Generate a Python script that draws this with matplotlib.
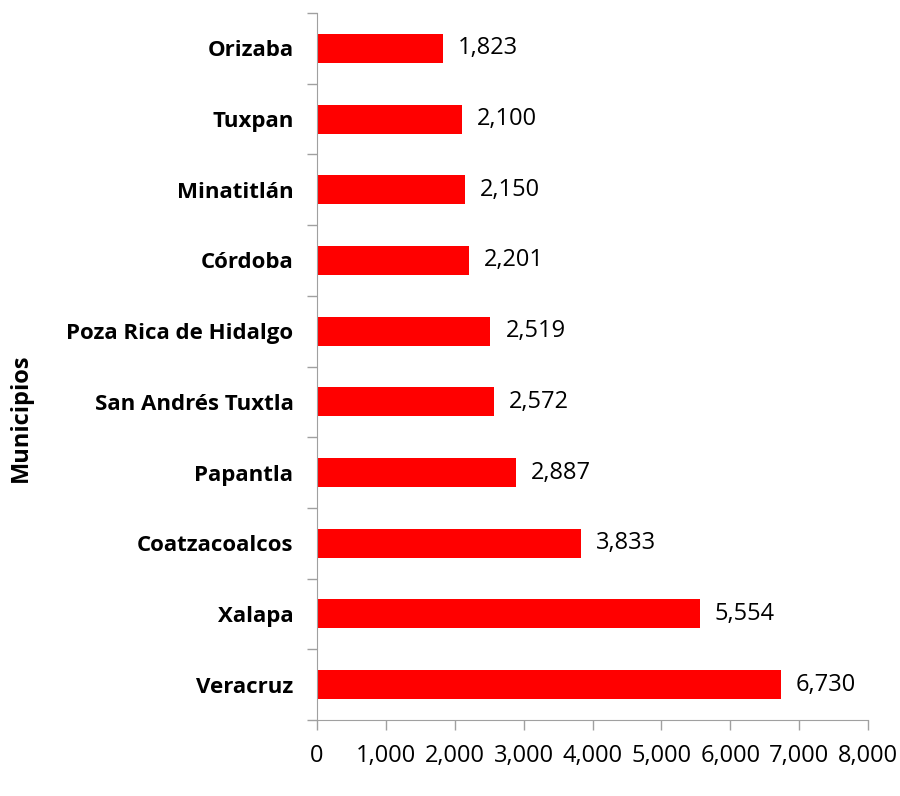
import matplotlib
matplotlib.use("Agg")
import matplotlib.pyplot as plt
from matplotlib.ticker import FuncFormatter, FixedLocator

municipios = ["Veracruz", "Xalapa", "Coatzacoalcos", "Papantla", "San Andrés Tuxtla",
              "Poza Rica de Hidalgo", "Córdoba", "Minatitlán", "Tuxpan", "Orizaba"]
valores = [6730, 5554, 3833, 2887, 2572, 2519, 2201, 2150, 2100, 1823]
xticks = [0, 1000, 2000, 3000, 4000, 5000, 6000, 7000, 8000]

plt.rcParams['font.family'] = ['Open Sans', 'DejaVu Sans']

fig = plt.figure(figsize=(9, 7.96), dpi=100)
ax = fig.add_axes([317/900, 1 - 720/796, (868-317)/900, (720-13)/796])

pos = list(range(len(municipios)))
ax.barh(pos, valores, height=0.41, color="#ff0000")
for p, v in zip(pos, valores):
    ax.text(v + 220, p, f"{v:,}", va="center", ha="left", fontsize=17)

ax.set_xlim(0, 8000)
ax.set_ylim(-0.5, len(municipios) - 0.5)
ax.set_xticks(xticks)
ax.xaxis.set_major_formatter(FuncFormatter(lambda x, _: f"{int(x):,}"))
ax.set_yticks(pos)
ax.set_yticklabels(municipios, fontsize=16, fontweight="bold")
ax.tick_params(axis="y", length=0, pad=17)
ax.yaxis.set_minor_locator(FixedLocator([p - 0.5 for p in range(len(municipios) + 1)]))
ax.tick_params(axis="y", which="minor", length=7, color="#a0a0a0", width=1)
ax.tick_params(axis="x", length=7, color="#a0a0a0", width=1, labelsize=17, pad=10)

for s in ["top", "right"]:
    ax.spines[s].set_visible(False)
for s in ["left", "bottom"]:
    ax.spines[s].set_color("#a0a0a0")

ax.set_ylabel("Municipios", fontsize=17, fontweight="bold", va="center")
ax.yaxis.set_label_coords(-(317 - 21) / 551, (720 - 418) / 707)

fig.savefig("out.png", dpi=100)
